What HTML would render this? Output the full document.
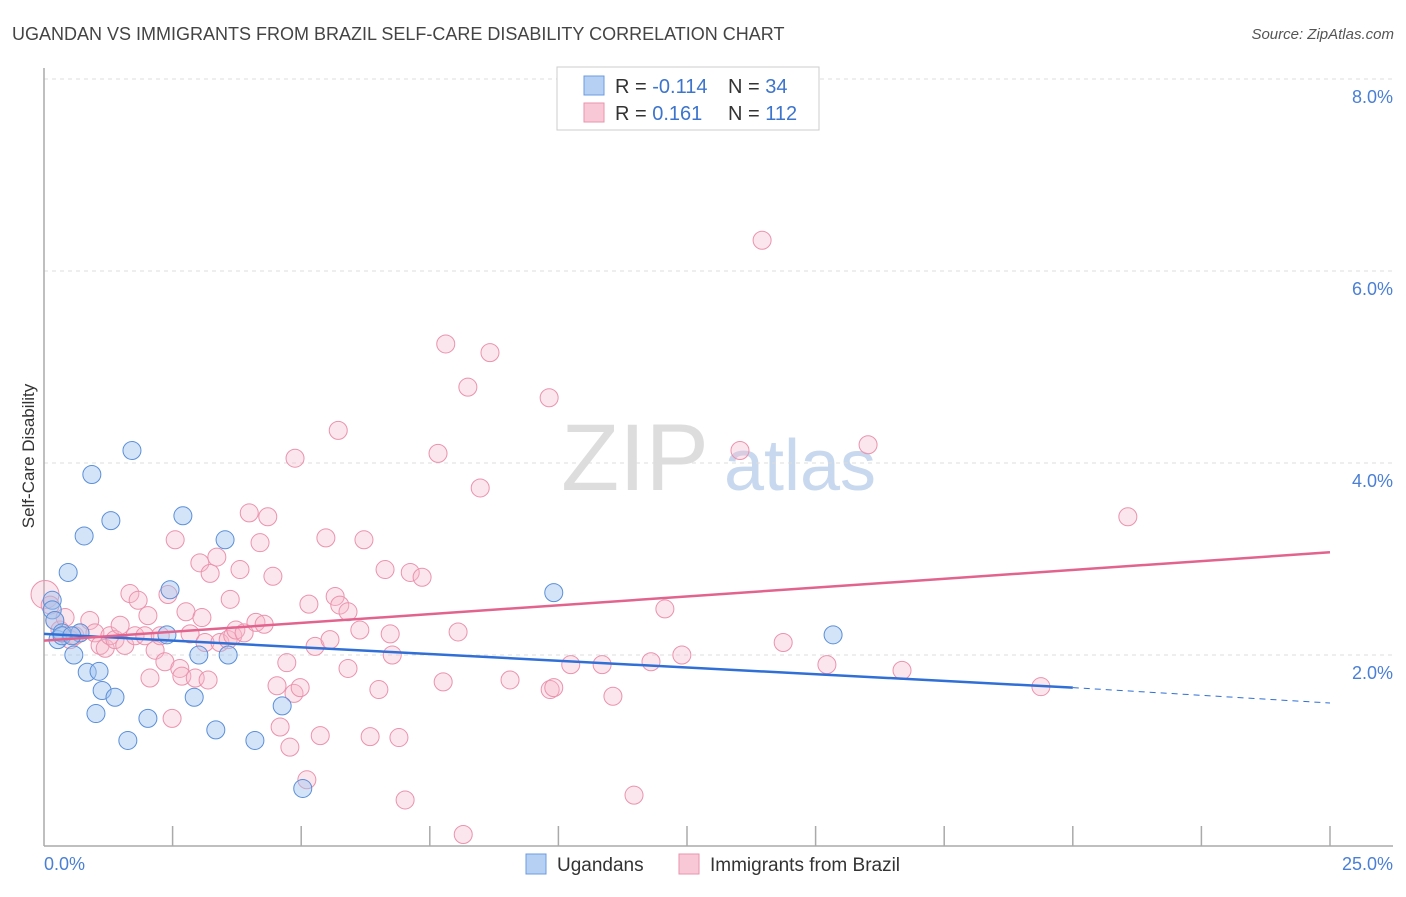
<!DOCTYPE html>
<html><head><meta charset="utf-8"><style>
body{margin:0;background:#fff;font-family:"Liberation Sans",sans-serif;}
svg text{font-family:"Liberation Sans",sans-serif;}
</style></head><body>
<svg id="chart" width="1406" height="892" xmlns="http://www.w3.org/2000/svg">
<text x="12" y="40" font-size="18" fill="#444">UGANDAN VS IMMIGRANTS FROM BRAZIL SELF-CARE DISABILITY CORRELATION CHART</text>
<text x="1394" y="39" font-size="15" fill="#555" font-style="italic" text-anchor="end">Source: ZipAtlas.com</text>
<g>
<text x="635" y="490" font-size="95" font-family="Liberation Serif" fill="#ddd" text-anchor="middle">ZIP</text>
<text x="800" y="490" font-size="72" fill="#c8d8ee" text-anchor="middle">atlas</text>
</g>
<g id="grid"></g>
<line x1="44" y1="68" x2="44" y2="846" stroke="#aaa" stroke-width="1.5"/>
<line x1="44" y1="846" x2="1393" y2="846" stroke="#aaa" stroke-width="1.5"/>
<g id="xticks"></g>
<text transform="translate(34,456) rotate(-90)" font-size="17" fill="#333" text-anchor="middle">Self-Care Disability</text>
<text x="44" y="870" font-size="18" fill="#4a7fd4">0.0%</text>
<text x="1393" y="870" font-size="18" fill="#4a7fd4" text-anchor="end">25.0%</text>
<g id="points"></g>
<g id="lines"></g>
<g>
<rect x="557" y="67" width="262" height="63" fill="#fff" stroke="#ccc"/>
<rect x="584" y="76" width="20" height="19" fill="#b5d0f3" stroke="#6a9be0"/>
<rect x="584" y="103" width="20" height="19" fill="#f9c8d6" stroke="#ea93ae"/>
<text x="615" y="93" font-size="20" fill="#333">R = <tspan fill="#3d74cc">-0.114</tspan></text>
<text x="728" y="93" font-size="20" fill="#333">N = <tspan fill="#3d74cc"> 34</tspan></text>
<text x="615" y="120" font-size="20" fill="#333">R = <tspan fill="#3d74cc"> 0.161</tspan></text>
<text x="728" y="120" font-size="20" fill="#333">N = <tspan fill="#3d74cc">112</tspan></text>
</g>
<g>
<rect x="526" y="854" width="20" height="20" fill="#b5d0f3" stroke="#6a9be0"/>
<text x="557" y="871" font-size="19" fill="#333">Ugandans</text>
<rect x="679" y="854" width="20" height="20" fill="#f9c8d6" stroke="#ea93ae"/>
<text x="710" y="871" font-size="19" fill="#333">Immigrants from Brazil</text>
</g>
</svg>
<script>
const yTicks=[8,6,4,2];
const yTickLabels=["8.0%","6.0%","4.0%","2.0%"];
const blueX=[0.16,0.16,0.21,0.27,0.35,0.47,0.58,0.70,0.78,0.84,0.93,1.01,1.07,1.13,1.30,1.38,1.63,1.71,2.02,2.39,2.45,2.70,2.92,3.01,3.34,3.52,3.58,4.10,4.63,5.03,9.91,15.34,0.35,0.54];
const blueY=[2.57,2.47,2.36,2.16,2.23,2.86,2.00,2.23,3.24,1.82,3.88,1.39,1.83,1.63,3.40,1.56,1.11,4.13,1.34,2.21,2.68,3.45,1.56,2.00,1.22,3.20,2.00,1.11,1.47,0.61,2.65,2.21,2.20,2.20];
const pinkX=[0.02,0.12,0.21,0.31,0.41,0.51,0.60,0.70,0.89,0.99,1.09,1.19,1.28,1.38,1.48,1.57,1.67,1.77,1.83,1.96,2.02,2.06,2.16,2.26,2.35,2.41,2.49,2.55,2.64,2.68,2.76,2.84,2.94,3.03,3.07,3.13,3.19,3.23,3.36,3.42,3.58,3.62,3.67,3.73,3.81,3.89,3.99,4.12,4.20,4.28,4.35,4.45,4.53,4.59,4.72,4.78,4.86,4.88,4.98,5.11,5.15,5.27,5.37,5.48,5.56,5.66,5.72,5.75,5.91,5.91,6.14,6.22,6.34,6.51,6.63,6.73,6.77,6.90,7.02,7.12,7.35,7.66,7.76,7.81,8.05,8.15,8.24,8.48,8.67,9.06,9.82,9.84,9.91,10.24,10.85,11.06,11.47,11.80,12.07,12.40,13.53,13.96,14.37,15.22,16.02,16.68,19.38,21.07];
const pinkY=[2.63,2.52,2.36,2.26,2.39,2.16,2.20,2.23,2.36,2.23,2.10,2.07,2.20,2.16,2.31,2.10,2.64,2.20,2.57,2.20,2.41,1.76,2.05,2.20,1.93,2.63,1.34,3.20,1.86,1.78,2.45,2.22,1.76,2.96,2.39,2.13,1.74,2.85,3.02,2.13,2.16,2.58,2.20,2.26,2.89,2.23,3.48,2.34,3.17,2.32,3.44,2.82,1.68,1.25,1.92,1.04,1.60,4.05,1.66,0.70,2.53,2.09,1.16,3.22,2.16,2.61,4.34,2.52,2.45,1.86,2.26,3.20,1.15,1.64,2.89,2.22,2.00,1.14,0.49,2.86,2.81,4.10,1.72,5.24,2.24,0.13,4.79,3.74,5.15,1.74,4.68,1.64,1.66,1.90,1.90,1.57,0.54,1.93,2.48,2.00,4.13,6.32,2.13,1.90,4.19,1.84,1.67,3.44];
const blueTrend=[2.22,1.66]; // y at x=0 and x=20
const blueTrendEnd=[20,25,1.50];
const pinkTrend=[2.15,3.07]; // y at x=0 and x=25
const X=v=>44+v*51.44, Y=v=>847-v*96;
const NS="http://www.w3.org/2000/svg";
function mk(t,a,p){const e=document.createElementNS(NS,t);for(const k in a)e.setAttribute(k,a[k]);p.appendChild(e);return e;}
const grid=document.getElementById('grid');
yTicks.forEach((t,i)=>{
 const l=mk('line',{x1:44,x2:1393,y1:Y(t),y2:Y(t),stroke:'#ddd','stroke-dasharray':'4,4'},grid);
 
 
 const tx=mk('text',{x:1393,y:Y(t)+24,'font-size':18,fill:'#4a7fd4','text-anchor':'end'},grid);
 tx.textContent=yTickLabels[i];
 
 
});
const xt=document.getElementById('xticks');
for(let i=1;i<=10;i++){const l=mk('line',{x1:X(i*2.5),x2:X(i*2.5),y1:826,y2:846,stroke:'#aaa','stroke-width':1.5},xt);
 
 }
const pts=document.getElementById('points');
pinkX.forEach((x,i)=>{const c=mk('circle',{cx:X(x),cy:Y(pinkY[i]),r:i==0?14:9,fill:'rgba(246,182,202,0.35)',stroke:'#ea93ae','stroke-width':1},pts);
 
 });
blueX.forEach((x,i)=>{const c=mk('circle',{cx:X(x),cy:Y(blueY[i]),r:9,fill:'rgba(160,196,240,0.45)',stroke:'#5b8fd8','stroke-width':1},pts);
 
 });
const ln=document.getElementById('lines');
const b1=mk('line',{x1:X(0),y1:Y(blueTrend[0]),x2:X(20),y2:Y(blueTrend[1]),stroke:'#2f6fd6','stroke-width':2.5},ln);


const b2=mk('line',{x1:X(blueTrendEnd[0]),y1:Y(blueTrend[1]),x2:X(blueTrendEnd[1]),y2:Y(blueTrendEnd[2]),stroke:'#2f6fd6','stroke-width':1,'stroke-dasharray':'6,5'},ln);


const p1=mk('line',{x1:X(0),y1:Y(pinkTrend[0]),x2:X(25),y2:Y(pinkTrend[1]),stroke:'#e2638e','stroke-width':2.5},ln);


</script>
</body></html>
